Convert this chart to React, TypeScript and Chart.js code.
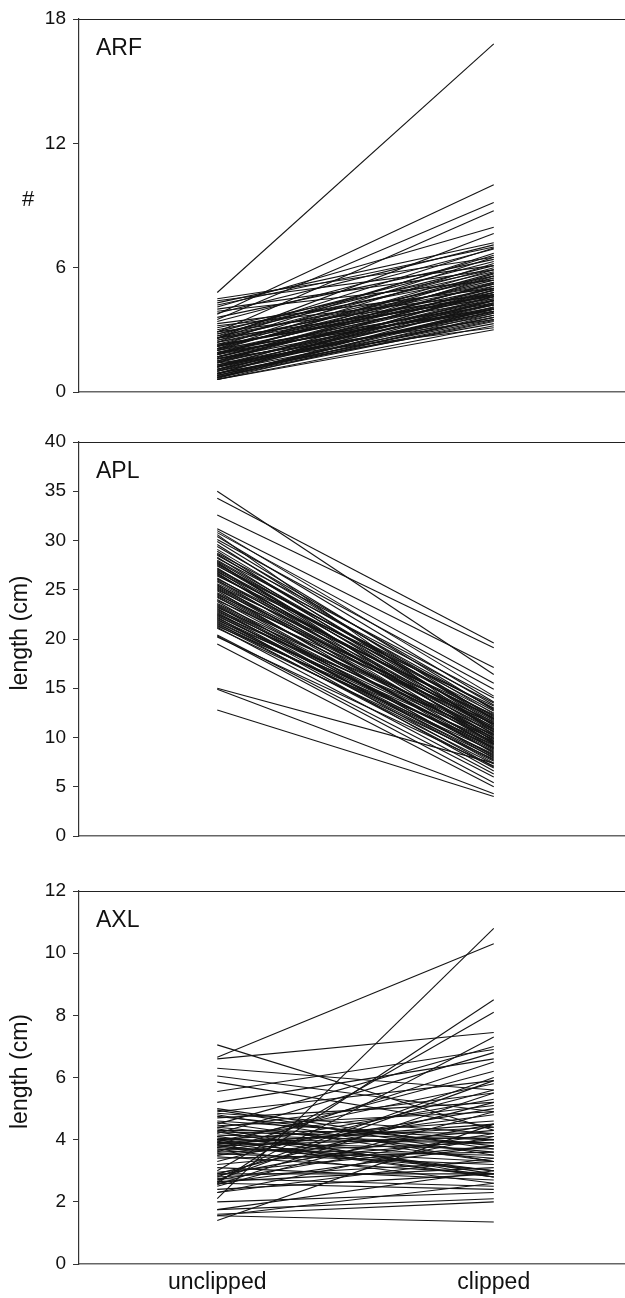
import React, { useEffect, useRef } from "react";
import { Chart, registerables } from "chart.js";

Chart.register(...registerables);

const CATEGORIES = ["unclipped", "clipped"];

const ARF_TICKS = [0, 6, 12, 18];
const APL_TICKS = [0, 5, 10, 15, 20, 25, 30, 35, 40];
const AXL_TICKS = [0, 2, 4, 6, 8, 10, 12];

const ARF_UNCLIPPED = [
  4.8, 3.75, 3.5, 2.9, 4.1, 2.6, 4.3, 3.8, 4.5, 4.2, 3.6, 4.0, 3.4, 2.7, 2.4, 2.2, 2.9, 2.5, 2.0, 1.8,
  2.3, 2.6, 1.5, 2.1, 1.9, 2.8, 1.7, 1.2, 2.0, 2.4, 1.6, 1.0, 1.4, 2.2, 0.9, 1.8, 1.1, 0.7, 1.3, 2.6,
  2.9, 1.5, 0.8, 1.9, 1.2, 0.6, 1.0, 2.1, 1.6, 0.7, 0.9, 1.4, 0.6, 2.3, 2.7, 3.0, 1.7, 1.3, 0.8, 1.1,
  2.5, 1.9, 2.2, 1.6, 0.7, 1.2, 2.0, 1.5, 0.9, 1.8, 2.4, 1.0, 0.6, 1.3, 2.8, 3.1, 2.6, 1.4, 0.8, 1.1,
  2.1, 1.7, 4.4, 3.9, 3.3, 3.2, 0.65, 0.75, 1.05, 1.25, 1.45, 1.65, 1.85, 2.05, 2.25, 0.85,
];
const ARF_CLIPPED = [
  16.8, 10.0, 9.15, 8.75, 7.95, 7.65, 7.2, 7.1, 6.5, 7.0, 6.4, 5.9, 6.9, 6.95, 6.7, 6.5, 6.3, 6.0, 5.9, 5.7,
  5.6, 5.5, 5.3, 5.4, 5.2, 5.8, 5.0, 5.1, 4.9, 4.8, 4.7, 4.6, 4.5, 4.7, 4.4, 4.3, 4.2, 4.3, 4.1, 4.5,
  4.6, 4.0, 3.9, 4.0, 3.8, 3.7, 3.6, 3.9, 3.5, 3.4, 3.3, 3.1, 3.0, 4.4, 5.2, 5.6, 4.8, 4.6, 4.0, 3.9,
  5.1, 4.6, 5.0, 4.2, 3.8, 4.4, 4.2, 4.9, 3.5, 5.5, 5.3, 4.0, 3.2, 3.7, 6.1, 5.9, 6.6, 5.6, 3.6, 4.8,
  6.2, 4.4, 6.1, 5.4, 5.0, 4.7, 4.1, 3.45, 4.45, 3.85, 4.25, 5.25, 4.05, 5.75, 4.65, 4.95,
];

const APL_UNCLIPPED = [
  35.0, 34.3, 32.6, 31.2, 31.0, 30.8, 30.6, 30.4, 30.1, 29.9, 29.6, 29.4, 29.1, 28.9, 28.7, 28.5, 28.3, 28.2, 28.0, 27.9,
  27.8, 27.6, 27.5, 27.4, 27.2, 27.1, 27.0, 26.9, 26.8, 26.6, 26.5, 26.4, 26.2, 26.1, 26.0, 25.9, 25.8, 25.6, 25.5, 25.4,
  25.2, 25.1, 25.0, 24.9, 24.7, 24.6, 24.5, 24.3, 24.2, 24.0, 23.9, 23.8, 23.6, 23.5, 23.4, 23.2, 23.1, 23.0, 22.9, 22.8,
  22.6, 22.5, 22.4, 22.3, 22.2, 22.1, 22.0, 21.9, 21.8, 21.6, 21.5, 21.4, 21.3, 21.2, 21.1, 20.4, 20.3, 20.2, 19.5, 15.0,
  14.9, 12.8, 28.6, 27.7, 26.7, 25.3, 24.4, 23.3, 22.7, 21.7,
];
const APL_CLIPPED = [
  16.4, 19.6, 19.1, 17.1, 14.2, 15.5, 10.5, 13.6, 14.9, 12.8, 11.9, 13.3, 12.4, 11.2, 14.0, 12.9, 10.8, 13.5, 12.1, 11.5,
  9.6, 12.7, 11.0, 13.0, 10.3, 12.2, 11.7, 9.9, 12.5, 10.9, 11.4, 13.2, 10.1, 11.9, 9.3, 12.0, 10.6, 11.3, 8.9, 12.3,
  10.4, 9.7, 11.1, 8.4, 10.8, 9.5, 11.6, 8.8, 10.2, 9.1, 11.4, 7.9, 10.0, 9.2, 8.5, 10.6, 7.4, 9.8, 8.7, 9.4,
  7.0, 10.3, 8.2, 9.0, 6.6, 8.9, 7.6, 9.6, 8.0, 6.9, 8.6, 7.3, 9.3, 6.3, 7.8, 6.0, 5.4, 7.1, 5.0, 7.4,
  4.3, 4.0, 11.8, 10.7, 9.4, 10.9, 9.9, 8.1, 7.7, 8.3,
];

const AXL_UNCLIPPED = [
  6.65, 2.1, 7.05, 6.6, 6.3, 6.05, 5.55, 5.2, 4.9, 4.8, 4.7, 4.6, 4.5, 4.4, 4.4, 4.3, 4.25, 4.2, 4.15, 4.1,
  4.05, 4.0, 4.0, 3.95, 3.9, 3.9, 3.85, 3.8, 3.8, 3.75, 3.7, 3.7, 3.65, 3.6, 3.6, 3.55, 3.5, 3.5, 3.45, 3.4,
  3.3, 3.2, 3.1, 3.0, 2.95, 2.9, 2.9, 2.85, 2.8, 2.8, 2.75, 2.7, 2.7, 2.65, 2.65, 2.6, 2.6, 2.6, 2.55, 2.5,
  2.4, 2.3, 2.3, 2.0, 1.75, 1.75, 1.6, 1.55, 1.55, 1.4, 4.95, 5.0, 4.85, 4.75, 4.55, 4.35, 4.45, 4.25, 4.1, 4.0,
  3.95, 3.9, 3.85, 3.75, 5.85,
];
const AXL_CLIPPED = [
  10.3, 10.8, 4.3, 7.45, 5.6, 4.9, 6.9, 6.6, 5.9, 3.3, 5.2, 4.0, 7.0, 3.6, 5.5, 4.2, 2.9, 6.8, 3.9, 5.1,
  3.4, 4.6, 2.8, 5.8, 3.7, 4.4, 6.2, 3.0, 4.1, 5.3, 3.5, 2.6, 4.8, 3.9, 6.5, 3.2, 4.3, 5.0, 2.9, 3.6,
  5.6, 4.0, 2.7, 8.1, 3.8, 2.9, 5.2, 4.5, 3.3, 6.0, 2.5, 4.2, 5.9, 3.1, 7.3, 8.5, 3.8, 2.4, 5.5, 4.9,
  2.9, 4.1, 3.4, 2.3, 2.1, 3.0, 2.0, 1.35, 2.6, 4.5, 3.5, 3.7, 4.2, 3.8, 3.3, 2.8, 4.9, 4.0, 3.0, 3.9,
  3.0, 2.8, 4.5, 3.3, 4.4,
];

const FONT = "'Liberation Sans', Arial, Helvetica, sans-serif";
const CANVAS_W = 632;

type PanelProps = {
  top: number;
  height: number;
  padTop: number;
  xAxisHeight: number;
  showX: boolean;
  label: string;
  yTitle: string;
  rotateTitle: boolean;
  ticks: number[];
  unclipped: number[];
  clipped: number[];
};

function Panel(p: PanelProps) {
  const ref = useRef<HTMLCanvasElement | null>(null);
  useEffect(() => {
    if (!ref.current) return;
    const datasets = p.unclipped.map((u, i) => ({
      data: [u, p.clipped[i]],
      borderColor: "#141414",
      borderWidth: 1.1,
      pointRadius: 0,
      fill: false,
      tension: 0,
    }));
    const yMax = p.ticks[p.ticks.length - 1];
    const deco = {
      id: "deco" + p.label,
      afterDraw(chart: any) {
        const { ctx, chartArea } = chart;
        ctx.save();
        ctx.strokeStyle = "#222";
        ctx.lineWidth = 1.2;
        ctx.beginPath();
        ctx.moveTo(chartArea.left, chartArea.top + 0.5);
        ctx.lineTo(chartArea.right, chartArea.top + 0.5);
        ctx.stroke();
        ctx.fillStyle = "#111";
        ctx.font = `23px ${FONT}`;
        ctx.textAlign = "left";
        ctx.textBaseline = "alphabetic";
        ctx.fillText(p.label, chartArea.left + 17, chartArea.top + 36);
        const cy = (chartArea.top + chartArea.bottom) / 2 - 6;
        ctx.textAlign = "center";
        ctx.textBaseline = "middle";
        if (p.rotateTitle) {
          ctx.translate(21, cy);
          ctx.rotate(-Math.PI / 2);
          ctx.font = `23px ${FONT}`;
          ctx.fillText(p.yTitle, 0, 0);
        } else {
          ctx.font = `22px ${FONT}`;
          ctx.fillText(p.yTitle, 28, cy);
        }
        ctx.restore();
      },
    };
    const chart = new Chart(ref.current, {
      type: "line",
      data: { labels: CATEGORIES, datasets },
      plugins: [deco],
      options: {
        animation: false,
        responsive: false,
        devicePixelRatio: 1,
        layout: { padding: { top: p.padTop, right: 0, left: 0, bottom: 0 } },
        plugins: { legend: { display: false }, tooltip: { enabled: false } },
        scales: {
          x: {
            type: "category",
            offset: true,
            grid: { display: false, drawTicks: false },
            border: { display: true, color: "#666", width: 1.5 },
            ticks: {
              display: p.showX,
              color: "#111",
              font: { family: FONT, size: 23 },
              padding: 5,
              maxRotation: 0,
            },
            afterFit(scale: any) {
              scale.height = p.xAxisHeight;
            },
          },
          y: {
            min: 0,
            max: yMax,
            afterBuildTicks(scale: any) {
              scale.ticks = p.ticks.map((v) => ({ value: v }));
            },
            grid: { display: true, drawOnChartArea: false, drawTicks: true, tickLength: 6, color: "#333" },
            border: { display: true, color: "#333", width: 1.2 },
            ticks: {
              color: "#111",
              font: { family: FONT, size: 19 },
              padding: 7,
            },
            afterFit(scale: any) {
              scale.width = 79;
            },
          },
        },
      },
    });
    return () => chart.destroy();
  }, []);
  return (
    <canvas
      ref={ref}
      width={CANVAS_W}
      height={p.height}
      style={{ position: "absolute", left: 0, top: p.top, width: CANVAS_W, height: p.height, display: "block" }}
    />
  );
}

export default function App() {
  return (
    <div style={{ position: "absolute", left: 0, top: 0, width: 625, height: 1298, overflow: "hidden", background: "#fff" }}>
      <Panel top={0} height={420} padTop={19} xAxisHeight={28} showX={false} label="ARF" yTitle="#" rotateTitle={false}
        ticks={ARF_TICKS} unclipped={ARF_UNCLIPPED} clipped={ARF_CLIPPED} />
      <Panel top={420} height={440} padTop={22} xAxisHeight={24} showX={false} label="APL" yTitle="length (cm)" rotateTitle={true}
        ticks={APL_TICKS} unclipped={APL_UNCLIPPED} clipped={APL_CLIPPED} />
      <Panel top={860} height={438} padTop={31} xAxisHeight={34} showX={true} label="AXL" yTitle="length (cm)" rotateTitle={true}
        ticks={AXL_TICKS} unclipped={AXL_UNCLIPPED} clipped={AXL_CLIPPED} />
    </div>
  );
}
